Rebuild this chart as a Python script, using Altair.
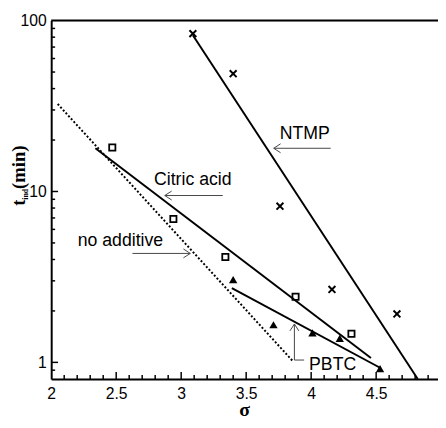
import altair as alt
import pandas as pd

# ---- data ----
ntmp_x = [3.09, 3.40, 3.76, 4.16, 4.66]
ntmp_y = [83.9, 48.9, 8.2, 2.67, 1.92]
citric_x = [2.47, 2.94, 3.34, 3.88, 4.31]
citric_y = [18.1, 6.9, 4.14, 2.42, 1.47]
pbtc_x = [3.40, 3.71, 4.01, 4.22, 4.53]
pbtc_y = [3.05, 1.66, 1.49, 1.38, 0.92]

ntmp_fit_x = [3.09, 4.82]
ntmp_fit_y = [82.0, 0.80]
citric_fit_x = [2.34, 4.46]
citric_fit_y = [17.9, 1.06]
pbtc_fit_x = [3.39, 4.53]
pbtc_fit_y = [2.72, 0.93]
noadd_fit_x = [2.05, 3.86]
noadd_fit_y = [32.5, 1.015]

label_text = ["NTMP", "Citric acid", "no additive", "PBTC"]
label_x = [3.758, 2.791, 2.204, 3.984]
label_y = [20.4, 10.96, 4.78, 0.905]

arrow_x = [4.15, 3.32, 2.625, 3.871, 3.871]
arrow_y = [17.9, 9.47, 4.34, 1.032, 1.032]
arrow_x2 = [3.712, 2.874, 3.07, 3.871, 3.946]
arrow_y2 = [17.9, 9.47, 4.34, 1.677, 1.032]
head_x = [3.712, 2.874, 3.07, 3.871]
head_y = [17.9, 9.47, 4.34, 1.677]
head_angle = [0, 0, 180, 90]

x_tick_labels = [2, 2.5, 3, 3.5, 4, 4.5]
y_tick_labels = [1, 10, 100]
x_ticks_major = [2.5, 3.0, 3.5, 4.0, 4.5]
x_ticks_minor = [2.1, 2.2, 2.3, 2.4, 2.6, 2.7, 2.8, 2.9, 3.1, 3.2, 3.3, 3.4,
                 3.6, 3.7, 3.8, 3.9, 4.1, 4.2, 4.3, 4.4, 4.6, 4.7, 4.8, 4.9]
y_ticks_major = [1, 10]
y_ticks_minor = [0.9, 2, 3, 4, 5, 6, 7, 8, 9, 20, 30, 40, 50, 60, 70, 80, 90]

# ---- layout ----
W, H = 394, 365
X_DOMAIN = [2, 2 + W / 132.4]
Y_DOMAIN = [0.8, 100]

xscale = alt.Scale(domain=X_DOMAIN, nice=False, zero=False)
yscale = alt.Scale(type="log", domain=Y_DOMAIN, nice=False)
xaxis = alt.Axis(values=x_tick_labels, format="~g", ticks=False, tickSize=0,
                 grid=False, domainColor="black", domainWidth=2,
                 labelFont="Liberation Sans", labelFontSize=16, labelColor="black",
                 labelPadding=7, labelFlush=False, title=None)
yaxis = alt.Axis(values=y_tick_labels, format="~g", ticks=False, tickSize=0,
                 grid=False, domainColor="black", domainWidth=2,
                 labelFont="Liberation Sans", labelFontSize=16, labelColor="black",
                 labelPadding=5, labelFlush=False, title=None)


def X(f):
    return alt.X(f, type="quantitative", scale=xscale, axis=xaxis)


def Y(f):
    return alt.Y(f, type="quantitative", scale=yscale, axis=yaxis)


pts = pd.concat([
    pd.DataFrame({"x": ntmp_x, "y": ntmp_y, "s": "NTMP"}),
    pd.DataFrame({"x": citric_x, "y": citric_y, "s": "Citric acid"}),
    pd.DataFrame({"x": pbtc_x, "y": pbtc_y, "s": "PBTC"}),
])

fits = pd.concat([
    pd.DataFrame({"x": ntmp_fit_x, "y": ntmp_fit_y, "s": "NTMP", "o": [0, 1]}),
    pd.DataFrame({"x": citric_fit_x, "y": citric_fit_y, "s": "Citric acid", "o": [0, 1]}),
    pd.DataFrame({"x": pbtc_fit_x, "y": pbtc_fit_y, "s": "PBTC", "o": [0, 1]}),
])
noadd = pd.DataFrame({"x": noadd_fit_x, "y": noadd_fit_y, "o": [0, 1]})
labels = pd.DataFrame({"t": label_text, "x": label_x, "y": label_y})
arrows = pd.DataFrame({"x": arrow_x, "y": arrow_y, "x2": arrow_x2, "y2": arrow_y2})
heads = pd.DataFrame({"x": head_x, "y": head_y, "a": head_angle})

fit_layer = alt.Chart(fits).mark_line(color="black", strokeWidth=2, clip=True).encode(
    x=X("x"), y=Y("y"), detail="s:N", order="o:Q")
noadd_layer = alt.Chart(noadd).mark_line(color="black", strokeWidth=2, strokeDash=[2, 2],
                                         clip=True).encode(x=X("x"), y=Y("y"), order="o:Q")

cross = alt.Chart(pts[pts.s == "NTMP"]).mark_point(
    shape="M-1,-1L1,1M-1,1L1,-1", filled=False, color="black", strokeWidth=2, size=49,
    opacity=1).encode(x=X("x"), y=Y("y"))
square = alt.Chart(pts[pts.s == "Citric acid"]).mark_point(
    shape="square", filled=False, color="black", strokeWidth=1.8, size=40,
    opacity=1).encode(x=X("x"), y=Y("y"))
tri = alt.Chart(pts[pts.s == "PBTC"]).mark_point(
    shape="triangle-up", filled=True, color="black", size=72,
    opacity=1).encode(x=X("x"), y=Y("y"))

arrow_lines = alt.Chart(arrows).mark_rule(color="#444444", strokeWidth=1).encode(
    x=X("x"), y=Y("y"), x2="x2", y2="y2")
arrow_heads = alt.Chart(heads).mark_point(
    shape="M1,-0.65L0,0L1,0.65", filled=False, color="#444444", strokeWidth=1,
    size=196, opacity=1).encode(x=X("x"), y=Y("y"), angle=alt.Angle("a:Q", scale=None))

text_layer = alt.Chart(labels).mark_text(
    align="left", baseline="alphabetic", font="Liberation Sans", fontSize=18,
    color="black").encode(x=X("x"), y=Y("y"), text="t:N")

# inward tick marks and top frame
xt_major = alt.Chart(pd.DataFrame({"x": x_ticks_major})).mark_rule(
    color="black", strokeWidth=1.5).encode(x=X("x"), y=alt.value(H), y2=alt.value(H - 7))
xt_minor = alt.Chart(pd.DataFrame({"x": x_ticks_minor})).mark_rule(
    color="black", strokeWidth=1.5).encode(x=X("x"), y=alt.value(H), y2=alt.value(H - 4))
yt_major = alt.Chart(pd.DataFrame({"y": y_ticks_major})).mark_rule(
    color="black", strokeWidth=1.5).encode(y=Y("y"), x=alt.value(0), x2=alt.value(7))
yt_minor = alt.Chart(pd.DataFrame({"y": y_ticks_minor})).mark_rule(
    color="black", strokeWidth=1.5).encode(y=Y("y"), x=alt.value(0), x2=alt.value(4))
top_frame = alt.Chart(pd.DataFrame({"a": [0]})).mark_rule(
    color="black", strokeWidth=2).encode(x=alt.value(0), x2=alt.value(W), y=alt.value(0))

# axis titles: σ and t_ind (min)
one = pd.DataFrame({"a": [0]})
xt_sigma = alt.Chart(one).mark_text(text="σ", align="center", baseline="alphabetic",
                                    font="Liberation Serif", fontSize=20, fontWeight="bold",
                                    color="black").encode(x=alt.value(W / 2), y=alt.value(H + 38))
yt_t = alt.Chart(one).mark_text(text="t", angle=270, align="left", baseline="alphabetic",
                                font="Liberation Serif", fontSize=19, fontWeight="bold",
                                color="black").encode(x=alt.value(-27), y=alt.value(188.5))
yt_ind = alt.Chart(one).mark_text(text="ind", angle=270, align="left", baseline="alphabetic",
                                  font="Liberation Serif", fontSize=8, fontWeight="bold",
                                  color="black").encode(x=alt.value(-23.5), y=alt.value(182.5))
yt_min = alt.Chart(one).mark_text(text="(min)", angle=270, align="left", baseline="alphabetic",
                                  font="Liberation Serif", fontSize=19, fontWeight="bold",
                                  color="black").encode(x=alt.value(-27), y=alt.value(171.5))

chart = alt.layer(
    noadd_layer, fit_layer, cross, square, tri, arrow_lines, arrow_heads, text_layer,
    xt_major, xt_minor, yt_major, yt_minor, top_frame, xt_sigma, yt_t, yt_ind, yt_min
).properties(
    width=W, height=H,
    autosize=alt.AutoSizeParams(type="none"),
    padding={"left": 44, "top": 9, "right": 0, "bottom": 38},
).configure_view(stroke=None).configure(background="white")

chart.save("out.html", embed_options={"renderer": "svg", "actions": False})
